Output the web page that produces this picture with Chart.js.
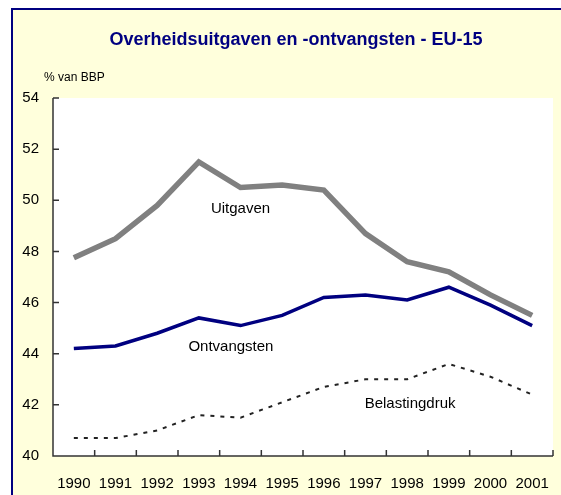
<!DOCTYPE html>
<html>
<head>
<meta charset="utf-8">
<script src="https://cdn.jsdelivr.net/npm/chart.js@4.4.1/dist/chart.umd.min.js"></script>
<style>
  html, body { margin: 0; padding: 0; background: #fff; }
  #wrap { width: 561px; height: 495px; }
</style>
</head>
<body>
<div id="wrap"><canvas id="chart" width="561" height="495"></canvas></div>
<script>
const years = ["1990", "1991", "1992", "1993", "1994", "1995", "1996", "1997", "1998", "1999", "2000", "2001"];
const uitgaven = [47.75, 48.5, 49.8, 51.5, 50.5, 50.6, 50.4, 48.7, 47.6, 47.2, 46.3, 45.5];
const ontvangsten = [44.2, 44.3, 44.8, 45.4, 45.1, 45.5, 46.2, 46.3, 46.1, 46.6, 45.9, 45.1];
const belastingdruk = [40.7, 40.7, 41.0, 41.6, 41.5, 42.1, 42.7, 43.0, 43.0, 43.6, 43.1, 42.4];
const yTicks = [40, 42, 44, 46, 48, 50, 52, 54];

const FONT = "'Liberation Sans', Arial, sans-serif";

// series names written next to the lines, placed in data coordinates
const seriesLabels = [
  { text: "Uitgaven", x: 4.0, y: 49.66 },
  { text: "Ontvangsten", x: 3.77, y: 44.27 },
  { text: "Belastingdruk", x: 8.07, y: 42.02 },
];

const frame = {
  id: "frame",
  beforeDraw(chart) {
    const ctx = chart.ctx;
    const area = chart.chartArea;
    ctx.save();
    ctx.fillStyle = "#ffffff";
    ctx.fillRect(0, 0, chart.width, chart.height);
    ctx.fillStyle = "#ffffdc";
    ctx.fillRect(12, 9, chart.width - 12, chart.height - 9);
    ctx.fillStyle = "#000080";
    ctx.fillRect(11, 8, chart.width - 11, 2);
    ctx.fillRect(11, 8, 2, chart.height - 8);
    ctx.fillStyle = "#ffffff";
    ctx.fillRect(area.left, area.top, area.right - area.left, area.bottom - area.top);
    ctx.restore();
  },
  afterDraw(chart) {
    const ctx = chart.ctx;
    const area = chart.chartArea;
    const xs = chart.scales.x;
    const ys = chart.scales.y;
    ctx.save();
    // axes with inward ticks
    ctx.strokeStyle = "#333333";
    ctx.lineWidth = 1.5;
    ctx.beginPath();
    ctx.moveTo(area.left, area.top);
    ctx.lineTo(area.left, area.bottom);
    ctx.lineTo(area.right, area.bottom);
    yTicks.forEach((v) => {
      const py = ys.getPixelForValue(v);
      ctx.moveTo(area.left, py);
      ctx.lineTo(area.left + 6, py);
    });
    for (let i = 0; i <= years.length; i++) {
      const px = xs.getPixelForValue(i - 0.5);
      ctx.moveTo(px, area.bottom);
      ctx.lineTo(px, area.bottom - 6);
    }
    ctx.stroke();

    // year labels under the axis
    ctx.fillStyle = "#000000";
    ctx.font = "15px " + FONT;
    ctx.textAlign = "center";
    ctx.textBaseline = "middle";
    years.forEach((y, i) => {
      ctx.fillText(y, xs.getPixelForValue(i), area.bottom + 28);
    });

    // title and unit
    ctx.fillStyle = "#000080";
    ctx.font = "bold 18px " + FONT;
    ctx.fillText("Overheidsuitgaven en -ontvangsten - EU-15", 296, 40);
    ctx.fillStyle = "#000000";
    ctx.font = "12px " + FONT;
    ctx.textAlign = "left";
    ctx.fillText("% van BBP", 44, 78);

    // line names
    ctx.font = "15px " + FONT;
    ctx.textAlign = "center";
    seriesLabels.forEach((l) => {
      ctx.fillText(l.text, xs.getPixelForValue(l.x), ys.getPixelForValue(l.y));
    });
    ctx.restore();
  },
};

new Chart(document.getElementById("chart"), {
  type: "line",
  data: {
    labels: years,
    datasets: [
      {
        label: "Uitgaven",
        data: uitgaven,
        borderColor: "#808080",
        borderWidth: 5.5,
      },
      {
        label: "Ontvangsten",
        data: ontvangsten,
        borderColor: "#000080",
        borderWidth: 3.5,
      },
      {
        label: "Belastingdruk",
        data: belastingdruk,
        borderColor: "#222222",
        borderWidth: 2,
        borderDash: [4, 6],
      },
    ],
  },
  options: {
    responsive: false,
    animation: false,
    elements: { point: { radius: 0 }, line: { tension: 0, borderCapStyle: "butt" } },
    layout: { padding: { left: 0, right: 8, top: 98, bottom: 0 } },
    plugins: {
      legend: { display: false },
      title: { display: false },
      tooltip: { enabled: false },
    },
    scales: {
      x: {
        offset: true,
        grid: { display: false, drawTicks: false },
        border: { display: false },
        ticks: { display: false },
        afterFit(scale) {
          scale.height = 39;
        },
      },
      y: {
        min: 40,
        max: 54,
        grid: { display: false, drawTicks: false },
        border: { display: false },
        ticks: {
          stepSize: 2,
          color: "#000",
          font: { family: FONT, size: 15 },
          padding: 14,
        },
        afterFit(scale) {
          scale.width = 53;
        },
      },
    },
  },
  plugins: [frame],
});
</script>
</body>
</html>
